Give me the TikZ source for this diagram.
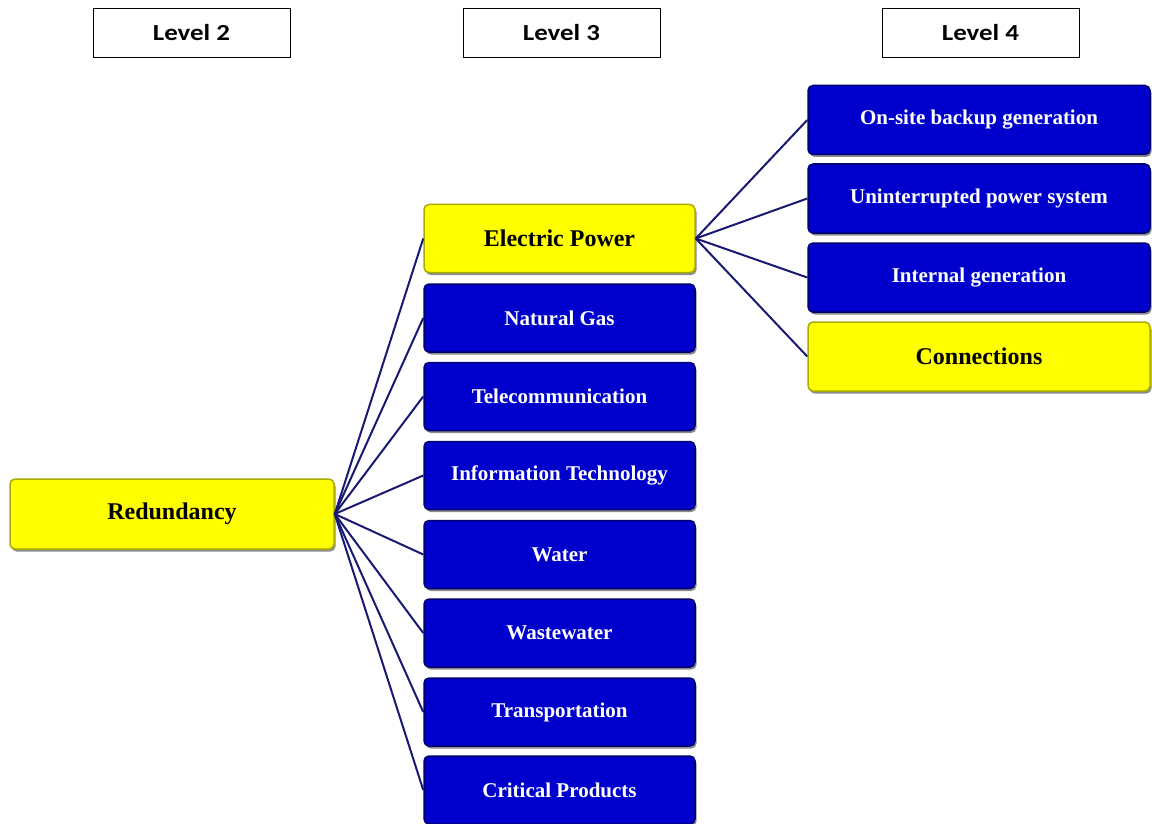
\documentclass[tikz,border=0pt]{standalone}
\usepackage{fontspec}
\setmainfont{Liberation Serif}
\newfontfamily\lvlfont[FakeStretch=1.17]{Carlito}
\usetikzlibrary{shadows}
\definecolor{boxblue}{RGB}{0,0,205}
\definecolor{blueedge}{RGB}{0,0,110}
\definecolor{boxyellow}{RGB}{255,255,0}
\definecolor{yellowedge}{RGB}{170,170,0}
\definecolor{linknavy}{RGB}{25,25,115}
\tikzset{
  lvl/.style={draw=black, line width=0.8pt, fill=white, minimum width=197pt, minimum height=49pt,
    inner sep=0pt, font=\lvlfont\bfseries\fontsize{23}{27}\selectfont},
  base/.style={rounded corners=5pt, line width=1.5pt, inner sep=0pt,
    drop shadow={shadow xshift=1.5pt, shadow yshift=-2.5pt, fill=black, opacity=0.45}},
  bluebox/.style={base, fill=boxblue, draw=blueedge, text=white, font=\bfseries\fontsize{21}{25}\selectfont},
  yelbox/.style={base, fill=boxyellow, draw=yellowedge, text=black, font=\bfseries\fontsize{24}{28}\selectfont},
  midbox/.style={minimum width=271pt, minimum height=68pt},
  rightbox/.style={minimum width=342pt, minimum height=69pt},
  link/.style={draw=linknavy, line width=2pt}
}
\begin{document}
\begin{tikzpicture}[x=1pt,y=-1pt]
\useasboundingbox (0,0) rectangle (1152,824);
% level headers
\node[lvl] (l2) at (191.5,32.5) {Level 2};
\node[lvl] (l3) at (561.5,32.5) {Level 3};
\node[lvl] (l4) at (980.5,32.5) {Level 4};
% level 2
\node[yelbox, minimum width=324pt, minimum height=70pt] (red) at (172,514) {Redundancy};
% level 3
\node[yelbox, midbox] (ep) at (559.5,238.5) {Electric Power};
\node[bluebox, midbox] (ng) at (559.5,318) {Natural Gas};
\node[bluebox, midbox] (tc) at (559.5,396.5) {Telecommunication};
\node[bluebox, midbox] (it) at (559.5,475.5) {Information Technology};
\node[bluebox, midbox] (wa) at (559.5,554.5) {Water};
\node[bluebox, midbox] (ww) at (559.5,633) {Wastewater};
\node[bluebox, midbox] (tr) at (559.5,712) {Transportation};
\node[bluebox, midbox] (cp) at (559.5,790) {Critical Products};
% level 4
\node[bluebox, rightbox] (os) at (979,120) {On-site backup generation};
\node[bluebox, rightbox] (ups) at (979,198.5) {Uninterrupted power system};
\node[bluebox, rightbox] (ig) at (979,277.5) {Internal generation};
\node[yelbox, rightbox] (cn) at (979,356.5) {Connections};
% connectors
\foreach \t in {ep,ng,tc,it,wa,ww,tr,cp} \draw[link] (red.east) -- (\t.west);
\foreach \t in {os,ups,ig,cn} \draw[link] (ep.east) -- (\t.west);
\end{tikzpicture}
\end{document}
